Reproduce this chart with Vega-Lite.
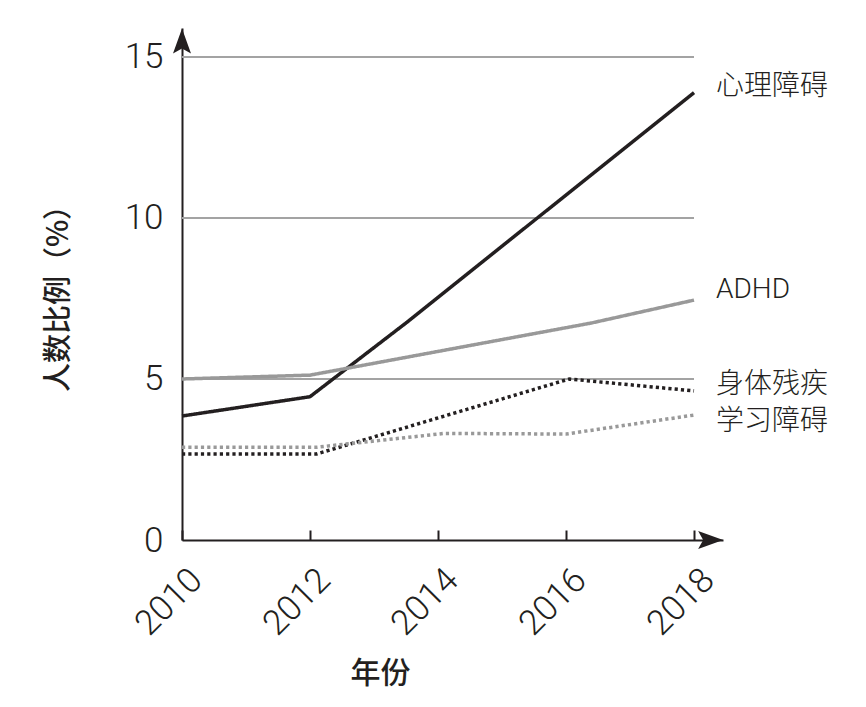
{
  "$schema": "https://vega.github.io/schema/vega-lite/v6.json",
  "width": 541,
  "height": 512,
  "autosize": {"type": "none"},
  "padding": {"left": 182, "top": 28, "right": 143, "bottom": 167},
  "background": "white",
  "config": {"view": {"stroke": null}},
  "datasets": {
    "lines": [
      {"series": "心理障碍", "year": 2010, "value": 3.85},
      {"series": "心理障碍", "year": 2012, "value": 4.45},
      {"series": "心理障碍", "year": 2013.5, "value": 6.74},
      {"series": "心理障碍", "year": 2018, "value": 13.89},
      {"series": "ADHD", "year": 2010, "value": 5.0},
      {"series": "ADHD", "year": 2012, "value": 5.12},
      {"series": "ADHD", "year": 2016.4, "value": 6.74},
      {"series": "ADHD", "year": 2018, "value": 7.45},
      {"series": "身体残疾", "year": 2010, "value": 2.67},
      {"series": "身体残疾", "year": 2012.1, "value": 2.67},
      {"series": "身体残疾", "year": 2016.05, "value": 5.0},
      {"series": "身体残疾", "year": 2018, "value": 4.63},
      {"series": "学习障碍", "year": 2010, "value": 2.88},
      {"series": "学习障碍", "year": 2012.1, "value": 2.88},
      {"series": "学习障碍", "year": 2014.1, "value": 3.31},
      {"series": "学习障碍", "year": 2016, "value": 3.29},
      {"series": "学习障碍", "year": 2018, "value": 3.88}
    ],
    "grid": [
      {"start": 2010, "end": 2018, "value": 5},
      {"start": 2010, "end": 2018, "value": 10},
      {"start": 2010, "end": 2018, "value": 15}
    ],
    "labels": [
      {"series": "心理障碍", "year": 2018, "value": 14.07},
      {"series": "ADHD", "year": 2018, "value": 7.76},
      {"series": "身体残疾", "year": 2018, "value": 4.81},
      {"series": "学习障碍", "year": 2018, "value": 3.66}
    ],
    "arrowUp": [{"year": 2010, "value": 15.5}],
    "arrowRight": [{"year": 2018.26, "value": 0}]
  },
  "layer": [
    {
      "data": {"name": "grid"},
      "mark": {"type": "rule", "color": "#a3a3a3", "strokeWidth": 2},
      "encoding": {
        "x": {"field": "start", "type": "quantitative",
          "scale": {"domain": [2010, 2018.453], "nice": false, "zero": false},
          "axis": {
            "values": [2010, 2012, 2014, 2016, 2018],
            "format": "d",
            "title": "年份",
            "titleFont": "Noto Sans CJK SC",
            "titleFontSize": 30,
            "titleFontWeight": 500,
            "titleColor": "#231f20",
            "titleX": 198,
            "titleY": 133,
            "titleBaseline": "middle",
            "titleAlign": "center",
            "labelFont": "Roboto",
            "labelFontWeight": 300,
            "labelFontSize": 35,
            "labelColor": "#231f20",
            "labelAngle": -45,
            "labelAlign": "right",
            "labelBaseline": "middle",
            "labelPadding": 44,
            "labelOffset": 14,
            "labelOverlap": false,
            "labelFlush": false,
            "grid": false,
            "ticks": true,
            "tickSize": -10,
            "tickColor": "#231f20",
            "tickWidth": 2,
            "domainColor": "#231f20",
            "domainWidth": 2
          }
        },
        "x2": {"field": "end"},
        "y": {"field": "value", "type": "quantitative",
          "scale": {"domain": [0, 15.9], "nice": false},
          "axis": {
            "values": [0, 5, 10, 15],
            "title": "人数比例（%）",
            "titleFont": "Noto Sans CJK SC",
            "titleFontSize": 29,
            "titleFontWeight": 500,
            "titleColor": "#231f20",
            "titleX": -124,
            "titleY": 263,
            "titleAngle": -90,
            "titleBaseline": "middle",
            "titleAlign": "center",
            "labelFont": "Roboto",
            "labelFontWeight": 300,
            "labelFontSize": 35,
            "labelColor": "#231f20",
            "labelPadding": 19,
            "labelBaseline": "middle",
            "grid": false,
            "ticks": false,
            "domainColor": "#231f20",
            "domainWidth": 2
          }
        }
      }
    },
    {
      "data": {"name": "lines"},
      "mark": {"type": "line", "strokeWidth": 3.5, "strokeCap": "butt", "strokeJoin": "miter"},
      "encoding": {
        "x": {"field": "year", "type": "quantitative"},
        "y": {"field": "value", "type": "quantitative"},
        "detail": {"field": "series"},
        "color": {"field": "series", "type": "nominal",
          "scale": {"domain": ["心理障碍", "ADHD", "身体残疾", "学习障碍"], "range": ["#231f20", "#999999", "#231f20", "#999999"]},
          "legend": null},
        "strokeDash": {"field": "series", "type": "nominal",
          "scale": {"domain": ["心理障碍", "ADHD", "身体残疾", "学习障碍"], "range": [[1, 0], [1, 0], [3.2, 3.1], [3.2, 3.1]]},
          "legend": null},
        "order": {"field": "year"}
      }
    },
    {
      "data": {"name": "labels"},
      "mark": {"type": "text", "align": "left", "baseline": "middle", "dx": 22, "font": "Roboto, Noto Sans CJK SC", "fontWeight": 300, "fontSize": 28, "color": "#231f20"},
      "encoding": {
        "x": {"field": "year", "type": "quantitative"},
        "y": {"field": "value", "type": "quantitative"},
        "text": {"field": "series"}
      }
    },
    {
      "data": {"name": "arrowUp"},
      "mark": {"type": "point", "shape": "M0,-1L0.72,1L0,0.6L-0.72,1Z", "size": 625, "filled": true, "color": "#231f20", "opacity": 1},
      "encoding": {
        "x": {"field": "year", "type": "quantitative"},
        "y": {"field": "value", "type": "quantitative"}
      }
    },
    {
      "data": {"name": "arrowRight"},
      "mark": {"type": "point", "shape": "M1,0L-1,0.72L-0.6,0L-1,-0.72Z", "size": 625, "filled": true, "color": "#231f20", "opacity": 1},
      "encoding": {
        "x": {"field": "year", "type": "quantitative"},
        "y": {"field": "value", "type": "quantitative"}
      }
    }
  ]
}
